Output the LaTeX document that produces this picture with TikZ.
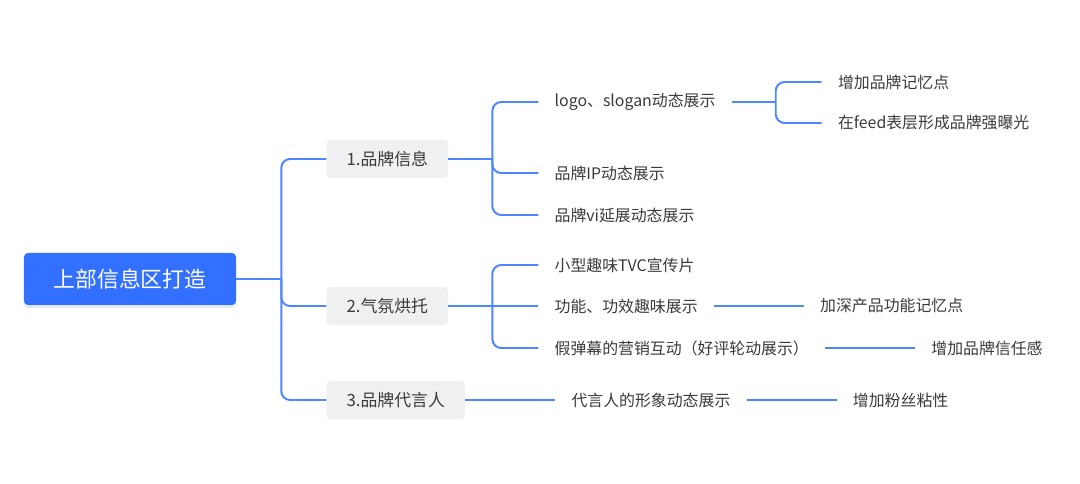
\documentclass[tikz,border=0pt]{standalone}
\usepackage{fontspec}
\newfontfamily\cjk{Noto Sans CJK SC}
\usepackage{tikz}
\usetikzlibrary{positioning,shadows}
\definecolor{rootblue}{HTML}{3370FF}
\definecolor{linkblue}{HTML}{4E86FF}
\definecolor{topicgray}{HTML}{EFF0F2}
\definecolor{textgray}{HTML}{3A3A3A}

\begin{document}
\begin{tikzpicture}[
            node distance=2.25cm,
            font=\cjk,
            root/.style={fill=rootblue, text=white, rounded corners=0.1cm, minimum width=5.3cm, minimum height=1.3cm,
                font=\cjk\fontsize{15.5}{18}\selectfont,
                drop shadow={shadow xshift=0pt, shadow yshift=-2pt, fill=rootblue!45, opacity=0.35}},
            topic/.style={fill=topicgray, text=textgray, rounded corners=0.1cm, inner xsep=0.5cm, minimum height=0.95cm,
                font=\cjk\fontsize{12}{14}\selectfont},
            leaf/.style={text=textgray, inner xsep=0.4cm, inner ysep=2pt, font=\cjk\fontsize{11.3}{13}\selectfont},
            link/.style={draw=linkblue, line width=1.4pt, rounded corners=0.22cm}
        ]
            \useasboundingbox (-3.25,-5.125) rectangle (23.75,6.975);
            \node[root] (r) at (0,0) {上部信息区打造};
            \node[topic, right=of r, yshift=3cm] (t1) {1.品牌信息};
            \node[topic, right=of r, yshift=-0.675cm] (t2) {2.气氛烘托};
            \node[topic, right=of r, yshift=-3.025cm] (t3) {3.品牌代言人};
            \coordinate[right=1.125cm of r] (f0);

            \node[leaf, right=of t1, yshift=1.425cm] (l11) {logo、slogan动态展示};
            \node[leaf, right=of t1, yshift=-0.35cm] (l12) {品牌IP动态展示};
            \node[leaf, right=of t1, yshift=-1.4cm] (l13) {品牌vi延展动态展示};
            \coordinate[right=1.1cm of t1] (f1);
            \node[leaf, right=of l11, yshift=0.5cm] (m11) {增加品牌记忆点};
            \node[leaf, right=of l11, yshift=-0.525cm] (m12) {在feed表层形成品牌强曝光};
            \coordinate[right=1.1cm of l11] (f11);

            \node[leaf, right=of t2, yshift=1.025cm] (l21) {小型趣味TVC宣传片};
            \node[leaf, right=of t2] (l22) {功能、功效趣味展示};
            \node[leaf, right=of t2, yshift=-1.05cm] (l23) {假弹幕的营销互动（好评轮动展示）};
            \coordinate[right=1.1cm of t2] (f2);
            \node[leaf, right=of l22] (m21) {加深产品功能记忆点};
            \node[leaf, right=of l23] (m22) {增加品牌信任感};

            \node[leaf, right=of t3] (l31) {代言人的形象动态展示};
            \node[leaf, right=of l31] (m31) {增加粉丝粘性};

            \draw[link] (r.east) -- (f0);
            \draw[link] (f0) |- (t1.west);
            \draw[link] (f0) |- (t2.west);
            \draw[link] (f0) |- (t3.west);
            \draw[link] (t1.east) -- (f1);
            \draw[link] (f1) |- (l11.west);
            \draw[link] (f1) |- (l12.west);
            \draw[link] (f1) |- (l13.west);
            \draw[link] (l11.east) -- (f11);
            \draw[link] (f11) |- (m11.west);
            \draw[link] (f11) |- (m12.west);
            \draw[link] (t2.east) -- (f2);
            \draw[link] (f2) |- (l21.west);
            \draw[link] (f2) -- (l22.west);
            \draw[link] (f2) |- (l23.west);
            \draw[link] (l22) -- (m21);
            \draw[link] (l23) -- (m22);
            \draw[link] (t3) -- (l31);
            \draw[link] (l31) -- (m31);
        \end{tikzpicture}
\end{document}
